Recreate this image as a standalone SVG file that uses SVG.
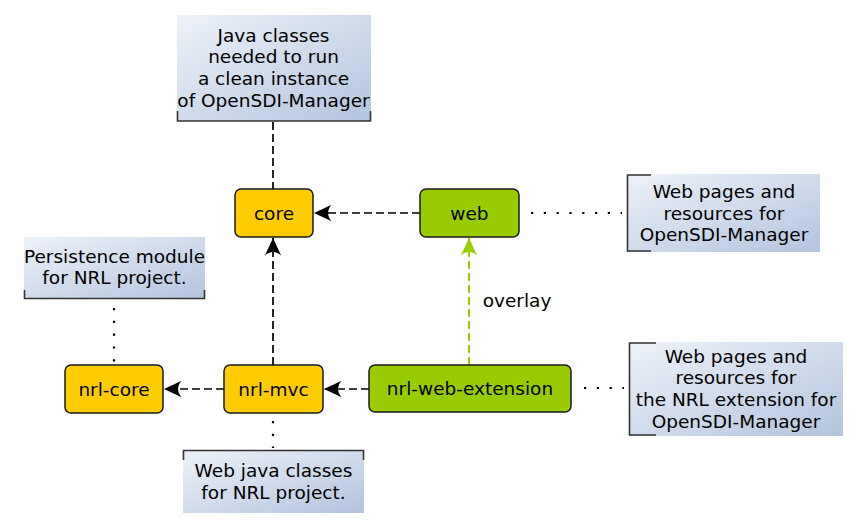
<svg xmlns="http://www.w3.org/2000/svg" width="860" height="528" viewBox="0 0 860 528">
<defs>
<linearGradient id="ng" x1="0" y1="0" x2="1" y2="1">
<stop offset="0" stop-color="#eef2f9"/>
<stop offset="1" stop-color="#b3c4de"/>
</linearGradient>
<marker id="ah" markerUnits="userSpaceOnUse" markerWidth="20" markerHeight="20" viewBox="-16 -8 17 16" refX="0" refY="0" orient="auto">
<path d="M0,0 L-15,-7 C-11,-3 -11,3 -15,7 Z" fill="#000"/>
</marker>
<marker id="ahg" markerUnits="userSpaceOnUse" markerWidth="20" markerHeight="20" viewBox="-16 -8 17 16" refX="0" refY="0" orient="auto">
<path d="M0,0 L-15,-7 C-11,-3 -11,3 -15,7 Z" fill="#99cc00"/>
</marker>
</defs>
<style>
text{font-family:"DejaVu Sans","Verdana",sans-serif;font-size:18.5px;fill:#000;text-anchor:middle}
.y{fill:#ffcc00;stroke:#1a1a1a;stroke-width:1.5}
.g{fill:#99cc00;stroke:#1a1a1a;stroke-width:1.5}
.note{fill:url(#ng);stroke:none}
.br{fill:none;stroke:#333;stroke-width:1.6}
.dash{fill:none;stroke:#000;stroke-width:1.7;stroke-dasharray:8,4}
.dot{fill:none;stroke:#000;stroke-width:2.2;stroke-dasharray:2.2,10.6}
.gdash{fill:none;stroke:#99cc00;stroke-width:2;stroke-dasharray:8,4}
</style>
<rect width="860" height="528" fill="#fff"/>
<g id="connectors">
<line class="dash" x1="273" y1="122" x2="273" y2="189"/>
<line class="dash" x1="420" y1="213" x2="314" y2="213" marker-end="url(#ah)"/>
<line class="dash" x1="273" y1="365" x2="273" y2="238" marker-end="url(#ah)"/>
<line class="dash" x1="224" y1="389" x2="164" y2="389" marker-end="url(#ah)"/>
<line class="dash" x1="369" y1="389" x2="324" y2="389" marker-end="url(#ah)"/>
<line class="gdash" x1="469" y1="365" x2="469" y2="238" marker-end="url(#ahg)"/>
<text x="517" y="307">overlay</text>
<line class="dot" x1="531" y1="213" x2="622" y2="213"/>
<line class="dot" x1="584" y1="388" x2="624" y2="388"/>
<line class="dot" x1="114" y1="308" x2="114" y2="362"/>
<line class="dot" x1="273" y1="421" x2="273" y2="448"/>
</g>
<g id="core">
<rect class="y" x="235" y="189" width="78" height="48" rx="6"/>
<text x="274" y="219.5">core</text>
</g>
<g id="web">
<rect class="g" x="420" y="189" width="99" height="48" rx="6"/>
<text x="469.5" y="219.5">web</text>
</g>
<g id="nrl-core">
<rect class="y" x="65" y="365" width="98" height="48" rx="6"/>
<text x="114" y="395.5">nrl-core</text>
</g>
<g id="nrl-mvc">
<rect class="y" x="224" y="365" width="99" height="48" rx="6"/>
<text x="273.5" y="395.5">nrl-mvc</text>
</g>
<g id="nrl-web-extension">
<rect class="g" x="369" y="365" width="202" height="47" rx="6"/>
<text x="470" y="395">nrl-web-extension</text>
</g>
<g id="note-core">
<rect class="note" x="177" y="15" width="194" height="106"/>
<path class="br" d="M177.5,111 V121 H370.5 V111"/>
<text x="273.5" y="41.7">Java classes</text>
<text x="273.5" y="63.4">needed to run</text>
<text x="273.5" y="85.1">a clean instance</text>
<text x="273.5" y="106.8">of OpenSDI-Manager</text>
</g>
<g id="note-web">
<rect class="note" x="627" y="174" width="193" height="78"/>
<path class="br" d="M651,175 H627.5 V251 H651"/>
<text x="724" y="198">Web pages and</text>
<text x="724" y="219.7">resources for</text>
<text x="724" y="241.4">OpenSDI-Manager</text>
</g>
<g id="note-nrl-web-extension">
<rect class="note" x="629" y="342" width="214" height="94"/>
<path class="br" d="M656,343 H629.5 V435 H656"/>
<text x="736" y="362.7">Web pages and</text>
<text x="736" y="384.4">resources for</text>
<text x="736" y="406.1">the NRL extension for</text>
<text x="736" y="427.8">OpenSDI-Manager</text>
</g>
<g id="note-nrl-core">
<rect class="note" x="24" y="237" width="181" height="62"/>
<path class="br" d="M24.5,290 V298.5 H204.5 V290"/>
<text x="114.5" y="262.7">Persistence module</text>
<text x="114.5" y="284.4">for NRL project.</text>
</g>
<g id="note-nrl-mvc">
<rect class="note" x="183" y="450" width="181" height="63"/>
<path class="br" d="M183.5,460 V450.5 H363.5 V460"/>
<text x="273.5" y="477">Web java classes</text>
<text x="273.5" y="498.7">for NRL project.</text>
</g>
</svg>
